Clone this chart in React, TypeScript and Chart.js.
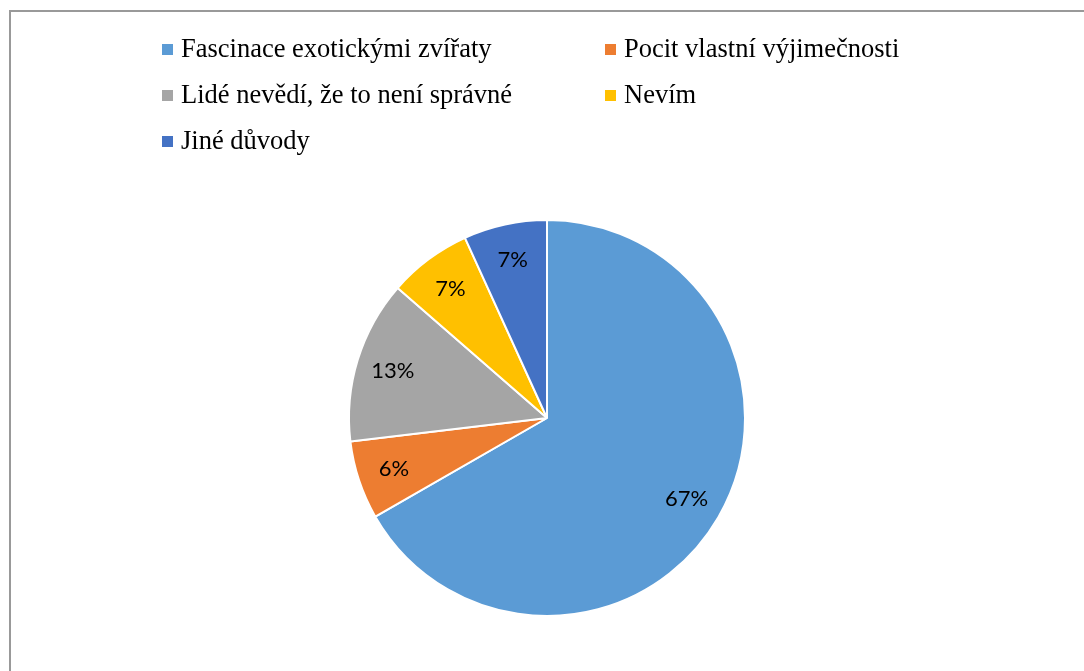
import React, { useEffect, useRef } from "react";
import { Chart, registerables } from "chart.js";

Chart.register(...registerables);

const categories = [
  "Fascinace exotickými zvířaty",
  "Pocit vlastní výjimečnosti",
  "Lidé nevědí, že to není správné",
  "Nevím",
  "Jiné důvody",
];
const values = [66.7, 6.4, 13.3, 6.8, 6.8];
const colors = ["#5B9BD5", "#ED7D31", "#A5A5A5", "#FFC000", "#4472C4"];

const labelPlugin = {
  id: "sliceLabels",
  afterDatasetsDraw(chart: any) {
    const ctx = chart.ctx;
    const meta = chart.getDatasetMeta(0);
    ctx.save();
    ctx.font = "22px Lato";
    ctx.fillStyle = "#000";
    ctx.textAlign = "center";
    ctx.textBaseline = "middle";
    meta.data.forEach((arc: any, i: number) => {
      const p = arc.getProps(["x", "y", "startAngle", "endAngle", "outerRadius"], true);
      const mid = (p.startAngle + p.endAngle) / 2;
      const r = p.outerRadius * 0.815;
      ctx.fillText(Math.round(values[i]) + "%", p.x + Math.cos(mid) * r, p.y + Math.sin(mid) * r);
    });
    ctx.restore();
  },
};

const legendPlugin = {
  id: "gridLegend",
  afterDraw(chart: any) {
    const ctx = chart.ctx;
    ctx.save();
    ctx.font = "26.5px 'Liberation Serif'";
    ctx.textBaseline = "middle";
    ctx.textAlign = "left";
    const colX = [162, 605];
    const rowY = [49.5, 95.5, 141.5];
    categories.forEach((c, i) => {
      const col = i % 2;
      const row = Math.floor(i / 2);
      const x = colX[col];
      const y = rowY[row];
      ctx.fillStyle = colors[i];
      ctx.fillRect(x, y - 5.5, 11, 11);
      ctx.fillStyle = "#000";
      ctx.fillText(c, x + 19, y + 1);
    });
    ctx.restore();
  },
};

export default function App() {
  const ref = useRef<HTMLCanvasElement>(null);
  useEffect(() => {
    if (!ref.current) return;
    const chart = new Chart(ref.current, {
      type: "pie",
      data: {
        labels: categories,
        datasets: [
          {
            data: values,
            backgroundColor: colors,
            borderColor: "#ffffff",
            borderWidth: 2,
          },
        ],
      },
      options: {
        animation: false,
        responsive: false,
        events: [],
        layout: { padding: { top: 219, bottom: 54, left: 10, right: 0 } },
        plugins: {
          legend: { display: false },
          tooltip: { enabled: false },
        },
      },
      plugins: [labelPlugin, legendPlugin],
    });
    return () => chart.destroy();
  }, []);
  return (
    <div style={{ position: "absolute", left: 0, top: 0, width: 1084, height: 671, background: "#fff", overflow: "hidden" }}>
      <div
        style={{
          position: "absolute",
          left: 9,
          top: 10,
          width: 1200,
          height: 800,
          borderLeft: "2px solid #999",
          borderTop: "2px solid #999",
        }}
      />
      <canvas ref={ref} width={1084} height={671} style={{ position: "absolute", left: 0, top: 0 }} />
    </div>
  );
}
